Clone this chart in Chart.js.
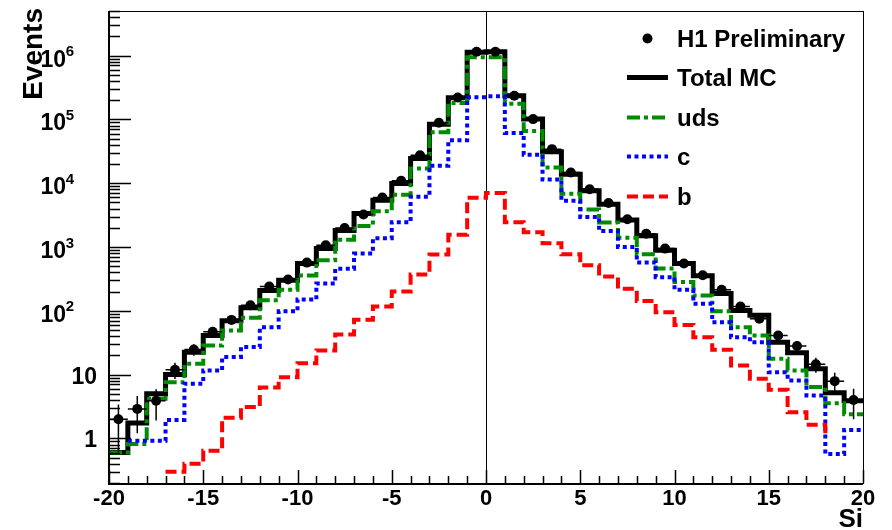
<!DOCTYPE html>
<html>
<head>
<meta charset="utf-8">
<script src="https://cdn.jsdelivr.net/npm/chart.js@4.4.1/dist/chart.umd.min.js"></script>
<style>
  html, body { margin: 0; padding: 0; background: #ffffff; }
  #wrap { position: relative; width: 892px; height: 530px; }
</style>
</head>
<body>
<div id="wrap"><canvas id="chart"></canvas></div>
<script>
// Histogram binning in Si (unit-width bins from -20 to 20)
const binEdges = [-20, -19, -18, -17, -16, -15, -14, -13, -12, -11, -10, -9, -8, -7, -6, -5, -4, -3, -2, -1,
                  0, 1, 2, 3, 4, 5, 6, 7, 8, 9, 10, 11, 12, 13, 14, 15, 16, 17, 18, 19, 20];
const binCenters = [-19.5, -18.5, -17.5, -16.5, -15.5, -14.5, -13.5, -12.5, -11.5, -10.5,
                    -9.5, -8.5, -7.5, -6.5, -5.5, -4.5, -3.5, -2.5, -1.5, -0.5,
                    0.5, 1.5, 2.5, 3.5, 4.5, 5.5, 6.5, 7.5, 8.5, 9.5,
                    10.5, 11.5, 12.5, 13.5, 14.5, 15.5, 16.5, 17.5, 18.5, 19.5];

// H1 Preliminary data (events per bin) and their errors
const dataEvents = [2.0, 2.9, 3.9, 11.9, 24.8, 47, 72, 122, 241, 309,
                    569, 1064, 1990, 3230, 5970, 10900, 27500, 88500, 221000, 1150000,
                    1150000, 235000, 101000, 34200, 14700, 8050, 4900, 2720, 1620, 944,
                    550, 360, 214, 117, 75, 41, 28, 14.5, 7.9, 4.0];
const dataErrors = [1.4, 1.7, 2.0, 3.4, 5.0, 6.9, 8.5, 11, 15.5, 17.6,
                    24, 33, 45, 57, 77, 104, 166, 297, 470, 1072,
                    1072, 485, 318, 185, 121, 90, 70, 52, 40, 31,
                    23, 19, 14.6, 10.8, 8.7, 6.4, 5.3, 3.8, 2.8, 2.0];

// Monte Carlo predictions (events per bin)
const totalMC = [0.6, 1.75, 5.0, 10, 22.4, 41, 70, 112, 209, 300,
                 550, 944, 1820, 3340, 5410, 9900, 24400, 83600, 219000, 1130000,
                 1150000, 235000, 101000, 31000, 13800, 7600, 4680, 2640, 1500, 886,
                 550, 355, 186, 101, 85, 32, 22, 12.3, 5.2, 3.9];
const udsMC = [0.6, 0.82, 4.2, 7.6, 14.8, 28.5, 49, 78, 146, 214,
               358, 620, 1300, 2130, 3620, 6600, 17000, 63000, 180000, 940000,
               940000, 176000, 66000, 17600, 6830, 3870, 2420, 1400, 770, 460,
               282, 174, 98, 55, 41, 17.7, 11.6, 6.4, 3.55, 2.4];
const charmMC = [0, 0.92, 0.92, 1.95, 7.2, 11.6, 18.8, 27, 55, 98,
                 150, 267, 458, 790, 1370, 2450, 6130, 18800, 47000, 222000,
                 230000, 61000, 28000, 11400, 5300, 2960, 1780, 1000, 570, 337,
                 214, 129, 66, 38.6, 32, 10.9, 8.1, 4.7, 0.57, 1.36];
const beautyMC = [0, 0, 0, 0.3, 0.4, 0.64, 2.1, 3.1, 6.3, 9.1,
                  15.1, 23.9, 42.5, 72.6, 117, 200, 370, 760, 1550, 5900,
                  7050, 2450, 1700, 1150, 770, 516, 346, 222, 142, 95,
                  60, 38.6, 24.5, 13.9, 8.6, 5.8, 2.57, 1.63, 1.1, 0];

// Axis ticks and labels
const xMajorTicks = [-20, -15, -10, -5, 0, 5, 10, 15, 20];
const xTickLabels = ['-20', '-15', '-10', '-5', '0', '5', '10', '15', '20'];
const yMajorTicks = [1, 10, 100, 1000, 10000, 100000, 1000000];
const yTickBase = ['1', '10', '10', '10', '10', '10', '10'];
const yTickExp = ['', '', '2', '3', '4', '5', '6'];
const legendLabels = ['H1 Preliminary', 'Total MC', 'uds', 'c', 'b'];

const X_MIN = -20, X_MAX = 20, Y_MIN = 0.2, Y_MAX = 5e6;
const FONT = '"Liberation Sans", Arial, Helvetica, sans-serif';

// histogram outline: one point per left bin edge plus the closing right edge
function stepPoints(values) {
  const pts = values.map((v, i) => ({ x: binEdges[i], y: v }));
  pts.push({ x: binEdges[binEdges.length - 1], y: values[values.length - 1] });
  return pts;
}

const GREEN = '#008c00', BLUE = '#0000ff', RED = '#ff0000';

const styles = {
  total: { color: '#000000', width: 5, dash: [] },
  uds: { color: GREEN, width: 4, dash: [13, 4, 4, 4] },
  c: { color: BLUE, width: 4, dash: [4, 3.5] },
  b: { color: RED, width: 4, dash: [11, 5] }
};

function histDataset(label, values, st, order) {
  return {
    label, data: stepPoints(values), order,
    stepped: true, showLine: true, fill: false,
    borderColor: st.color, borderWidth: st.width, borderDash: st.dash,
    borderJoinStyle: 'miter', borderCapStyle: 'butt',
    pointRadius: 0, pointHoverRadius: 0, tension: 0
  };
}

// frame, ticks, labels, error bars and legend drawn in the ROOT style
const rootStyle = {
  id: 'rootStyle',
  beforeDatasetsDraw(chart) {
    const { ctx, chartArea: a, scales: { x } } = chart;
    ctx.save();
    ctx.strokeStyle = '#000000';
    ctx.lineWidth = 1;
    const x0 = Math.round(x.getPixelForValue(0)) + 0.5;
    ctx.beginPath(); ctx.moveTo(x0, a.top); ctx.lineTo(x0, a.bottom); ctx.stroke();
    ctx.restore();
  },
  afterDatasetsDraw(chart) {
    const { ctx, chartArea: a, scales: { x, y } } = chart;
    ctx.save();

    // data error bars
    ctx.strokeStyle = '#000000';
    ctx.lineWidth = 1.5;
    ctx.beginPath();
    binCenters.forEach((c, i) => {
      const px = x.getPixelForValue(c);
      const v = dataEvents[i], e = dataErrors[i];
      const lo = Math.max(v - e, Y_MIN);
      ctx.moveTo(px, y.getPixelForValue(v + e));
      ctx.lineTo(px, y.getPixelForValue(lo));
      const py = y.getPixelForValue(v);
      ctx.moveTo(x.getPixelForValue(c - 0.5), py);
      ctx.lineTo(x.getPixelForValue(c + 0.5), py);
    });
    ctx.stroke();

    // frame
    ctx.lineWidth = 1;
    ctx.strokeRect(a.left + 0.5, a.top + 0.5, a.right - a.left, a.bottom - a.top);
    ctx.lineWidth = 2;
    ctx.beginPath();
    ctx.moveTo(a.left, a.top); ctx.lineTo(a.left, a.bottom + 1);
    ctx.lineTo(a.right, a.bottom + 1);
    ctx.stroke();

    // x ticks (inside the frame)
    ctx.lineWidth = 1.5;
    ctx.beginPath();
    for (let v = X_MIN; v <= X_MAX; v++) {
      const px = Math.round(x.getPixelForValue(v)) + 0.5;
      const len = xMajorTicks.includes(v) ? 13 : 7;
      ctx.moveTo(px, a.bottom); ctx.lineTo(px, a.bottom - len);
    }
    ctx.stroke();

    // y ticks (decades and their 2..9 subdivisions)
    ctx.beginPath();
    for (let d = -1; d <= 6; d++) {
      for (let m = 1; m <= 9; m++) {
        const v = m * Math.pow(10, d);
        if (v < Y_MIN * 0.999 || v > Y_MAX * 1.001) continue;
        const py = Math.round(y.getPixelForValue(v)) + 0.5;
        const len = m === 1 ? 22 : 11;
        ctx.moveTo(a.left, py); ctx.lineTo(a.left + len, py);
      }
    }
    ctx.stroke();

    // x tick labels
    ctx.fillStyle = '#000000';
    ctx.font = 'bold 22px ' + FONT;
    ctx.textAlign = 'center';
    ctx.textBaseline = 'alphabetic';
    xMajorTicks.forEach((v, i) => {
      ctx.fillText(xTickLabels[i], x.getPixelForValue(v), a.bottom + 22);
    });

    // y tick labels; powers of ten carry a raised exponent
    yMajorTicks.forEach((v, i) => {
      const py = y.getPixelForValue(v);
      ctx.textAlign = 'right';
      if (yTickExp[i]) {
        const right = a.left - 35;
        ctx.font = 'bold 15px ' + FONT;
        const ew = ctx.measureText(yTickExp[i]).width;
        ctx.fillText(yTickExp[i], right, py + 0.5);
        ctx.font = 'bold 23px ' + FONT;
        ctx.fillText(yTickBase[i], right - ew + 0.5, py + 11);
      } else {
        ctx.font = 'bold 23px ' + FONT;
        ctx.fillText(yTickBase[i], a.left - 12, py + 9);
      }
    });

    // axis titles
    ctx.font = 'bold 26px ' + FONT;
    ctx.textAlign = 'right';
    ctx.fillText('Si', a.right, a.bottom + 44);
    ctx.save();
    ctx.font = 'bold 28px ' + FONT;
    ctx.translate(42, a.top - 3);
    ctx.rotate(-Math.PI / 2);
    ctx.textAlign = 'right';
    ctx.fillText('Events', 0, 0);
    ctx.restore();

    // legend
    const rowY = [38.5, 77.5, 117.5, 156.5, 196.5];
    const lx0 = 627, lx1 = 668, tx = 677;
    ctx.font = 'bold 24px ' + FONT;
    ctx.textAlign = 'left';
    legendLabels.forEach((lab, i) => {
      const ry = rowY[i];
      if (i === 0) {
        ctx.beginPath();
        ctx.arc((lx0 + lx1) / 2, ry, 5, 0, Math.PI * 2);
        ctx.fill();
      } else {
        const st = [styles.total, styles.uds, styles.c, styles.b][i - 1];
        ctx.save();
        ctx.strokeStyle = st.color;
        ctx.lineWidth = st.width;
        ctx.setLineDash(st.dash);
        ctx.lineCap = 'butt';
        ctx.beginPath(); ctx.moveTo(lx0, ry); ctx.lineTo(lx1, ry); ctx.stroke();
        ctx.restore();
      }
      ctx.fillText(lab, tx, ry + 8.5);
    });

    ctx.restore();
  }
};

new Chart(document.getElementById('chart'), {
  type: 'line',
  data: {
    datasets: [
      {
        label: legendLabels[0], order: 0, showLine: false,
        data: binCenters.map((c, i) => ({ x: c, y: dataEvents[i] })),
        pointRadius: 5, pointHoverRadius: 5, pointStyle: 'circle',
        pointBackgroundColor: '#000000', pointBorderColor: '#000000', pointBorderWidth: 0
      },
      histDataset(legendLabels[4], beautyMC, styles.b, 1),
      histDataset(legendLabels[3], charmMC, styles.c, 2),
      histDataset(legendLabels[2], udsMC, styles.uds, 3),
      histDataset(legendLabels[1], totalMC, styles.total, 4)
    ]
  },
  options: {
    responsive: true,
    maintainAspectRatio: false,
    devicePixelRatio: 1,
    animation: false,
    events: [],
    layout: { padding: { left: 109, right: 29, top: 11, bottom: 47 } },
    plugins: { legend: { display: false }, tooltip: { enabled: false } },
    scales: {
      x: { type: 'linear', min: X_MIN, max: X_MAX, display: false },
      y: { type: 'logarithmic', min: Y_MIN, max: Y_MAX, display: false }
    }
  },
  plugins: [rootStyle]
});
</script>
</body>
</html>
